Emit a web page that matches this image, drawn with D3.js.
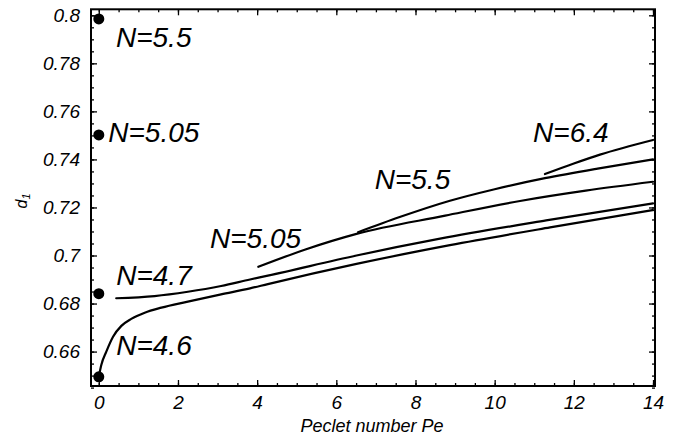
<!DOCTYPE html>
<html>
<head>
<meta charset="utf-8">
<script src="https://cdn.jsdelivr.net/npm/d3@7"></script>
<style>
  body { margin: 0; background: #fff; }
  svg { display: block; }
  text { font-family: "Liberation Sans", Arial, sans-serif; font-style: italic; fill: #000; }
</style>
</head>
<body>
<svg id="chart" width="691" height="441"></svg>
<script>
// ---- data ----
const peN46 = [0, 0.063, 0.19, 0.36, 0.57, 0.82, 1.16, 1.58, 2.25, 3.09, 3.82, 4.27, 6.51, 8.87, 11.4, 14.0];
const d1N46 = [0.6495, 0.6544, 0.660, 0.6662, 0.6707, 0.6736, 0.6762, 0.6783, 0.6808, 0.6838, 0.6863, 0.6881, 0.6965, 0.7043, 0.7117, 0.7189];

const peN47 = [0.44, 1.41, 2.25, 3.09, 3.82, 4.27, 6.51, 8.62, 11.3, 14.0];
const d1N47 = [0.6822, 0.6831, 0.6849, 0.6873, 0.6900, 0.6916, 0.7000, 0.7070, 0.7146, 0.7217];

const peN505 = [4.03, 5.2, 6.51, 8.75, 10.64, 12.3, 14.0];
const d1N505 = [0.6953, 0.7024, 0.7090, 0.7166, 0.7227, 0.7270, 0.7307];

const peN55 = [6.55, 7.6, 8.87, 10.0, 11.27, 12.6, 14.0];
const d1N55 = [0.7097, 0.7160, 0.7228, 0.7276, 0.7322, 0.7362, 0.7400];

const peN64 = [11.27, 12.0, 12.66, 14.0];
const d1N64 = [0.7339, 0.7383, 0.7420, 0.7481];

// values at Pe = 0 (dots)
const dotPe = [0, 0, 0, 0];
const dotD1 = [0.7985, 0.7502, 0.6841, 0.6495];

// curve labels
const labelText = ["N=5.5", "N=5.05", "N=4.7", "N=4.6", "N=5.05", "N=5.5", "N=6.4"];
const labelPe   = [0.434, 0.24, 0.44, 0.44, 2.81, 6.97, 10.97];
const labelD1   = [0.7868, 0.7471, 0.6877, 0.6586, 0.7030, 0.7276, 0.7474];

// ticks
const xTickVals = [0, 2, 4, 6, 8, 10, 12, 14];
const xTickLabels = ["0", "2", "4", "6", "8", "10", "12", "14"];
const yTickVals = [0.66, 0.68, 0.70, 0.72, 0.74, 0.76, 0.78, 0.80];
const yTickLabels = ["0.66", "0.68", "0.7", "0.72", "0.74", "0.76", "0.78", "0.8"];
const xMinor = d3.range(0, 29).map(i => i * 0.5);
const yMinor = d3.range(0, 32).map(i => 0.645 + i * 0.005);

const xTitle = "Peclet number Pe";

// ---- layout ----
const svg = d3.select("#chart");
const L = 91, R = 655, T = 9.3, B = 386;
const x = d3.scaleLinear().domain([-0.197, 14.05]).range([L, R]);
const y = d3.scaleLinear().domain([0.64567, 0.8025]).range([B, T]);

const tickFont = "19px";

function styleAxis(g) {
  g.select(".domain").remove();
  g.selectAll(".tick line").attr("stroke", "#000").attr("stroke-width", 1.3);
  g.selectAll("text").style("font-size", tickFont).style("font-family", '"Liberation Sans", Arial, sans-serif').style("font-style", "italic");
}

// minor ticks (all four sides, inward)
svg.append("g").attr("transform", `translate(0,${B})`)
  .call(d3.axisBottom(x).tickValues(xMinor).tickSize(-3).tickFormat(""))
  .call(styleAxis);
svg.append("g").attr("transform", `translate(0,${T})`)
  .call(d3.axisTop(x).tickValues(xMinor).tickSize(-3).tickFormat(""))
  .call(styleAxis);
svg.append("g").attr("transform", `translate(${L},0)`)
  .call(d3.axisLeft(y).tickValues(yMinor).tickSize(-3).tickFormat(""))
  .call(styleAxis);
svg.append("g").attr("transform", `translate(${R},0)`)
  .call(d3.axisRight(y).tickValues(yMinor).tickSize(-3).tickFormat(""))
  .call(styleAxis);

// major ticks with labels
svg.append("g").attr("transform", `translate(0,${B})`)
  .call(d3.axisBottom(x).tickValues(xTickVals).tickSize(-6).tickPadding(10)
    .tickFormat((d, i) => xTickLabels[i]))
  .call(styleAxis);
svg.append("g").attr("transform", `translate(0,${T})`)
  .call(d3.axisTop(x).tickValues(xTickVals).tickSize(-6).tickFormat(""))
  .call(styleAxis);
svg.append("g").attr("transform", `translate(${L},0)`)
  .call(d3.axisLeft(y).tickValues(yTickVals).tickSize(-6).tickPadding(11)
    .tickFormat((d, i) => yTickLabels[i]))
  .call(styleAxis);
svg.append("g").attr("transform", `translate(${R},0)`)
  .call(d3.axisRight(y).tickValues(yTickVals).tickSize(-6).tickFormat(""))
  .call(styleAxis);

// frame
svg.append("rect")
  .attr("x", L).attr("y", T).attr("width", R - L).attr("height", B - T)
  .attr("fill", "none").attr("stroke", "#000").attr("stroke-width", 2);

// curves
const series = [
  [peN46, d1N46], [peN47, d1N47], [peN505, d1N505], [peN55, d1N55], [peN64, d1N64]
];
const line = d3.line()
  .x(d => x(d[0])).y(d => y(d[1]))
  .curve(d3.curveMonotoneX);

svg.append("clipPath").attr("id", "plotclip")
  .append("rect").attr("x", L).attr("y", T).attr("width", R - L).attr("height", B - T);

svg.append("g").attr("clip-path", "url(#plotclip)")
  .selectAll("path").data(series).join("path")
  .attr("d", s => line(s[0].map((p, i) => [p, s[1][i]])))
  .attr("fill", "none").attr("stroke", "#000").attr("stroke-width", 2.2)
  .attr("stroke-linecap", "round");

// dots
svg.append("g").selectAll("circle").data(dotPe.map((p, i) => [p, dotD1[i]])).join("circle")
  .attr("cx", d => x(d[0])).attr("cy", d => y(d[1])).attr("r", 5.5).attr("fill", "#000");

// labels
svg.append("g").selectAll("text").data(labelText).join("text")
  .attr("x", (d, i) => x(labelPe[i])).attr("y", (d, i) => y(labelD1[i]))
  .style("font-size", "28px")
  .text(d => d);

// axis titles
svg.append("text")
  .attr("x", 372).attr("y", 432)
  .attr("text-anchor", "middle")
  .style("font-size", "18px")
  .text(xTitle);

const yt = svg.append("text")
  .attr("transform", "translate(27,201) rotate(-90)")
  .attr("text-anchor", "middle")
  .style("font-size", "16px");
yt.append("tspan").text("d");
yt.append("tspan").attr("baseline-shift", "-25%").style("font-size", "11px").text("1");
</script>
</body>
</html>
